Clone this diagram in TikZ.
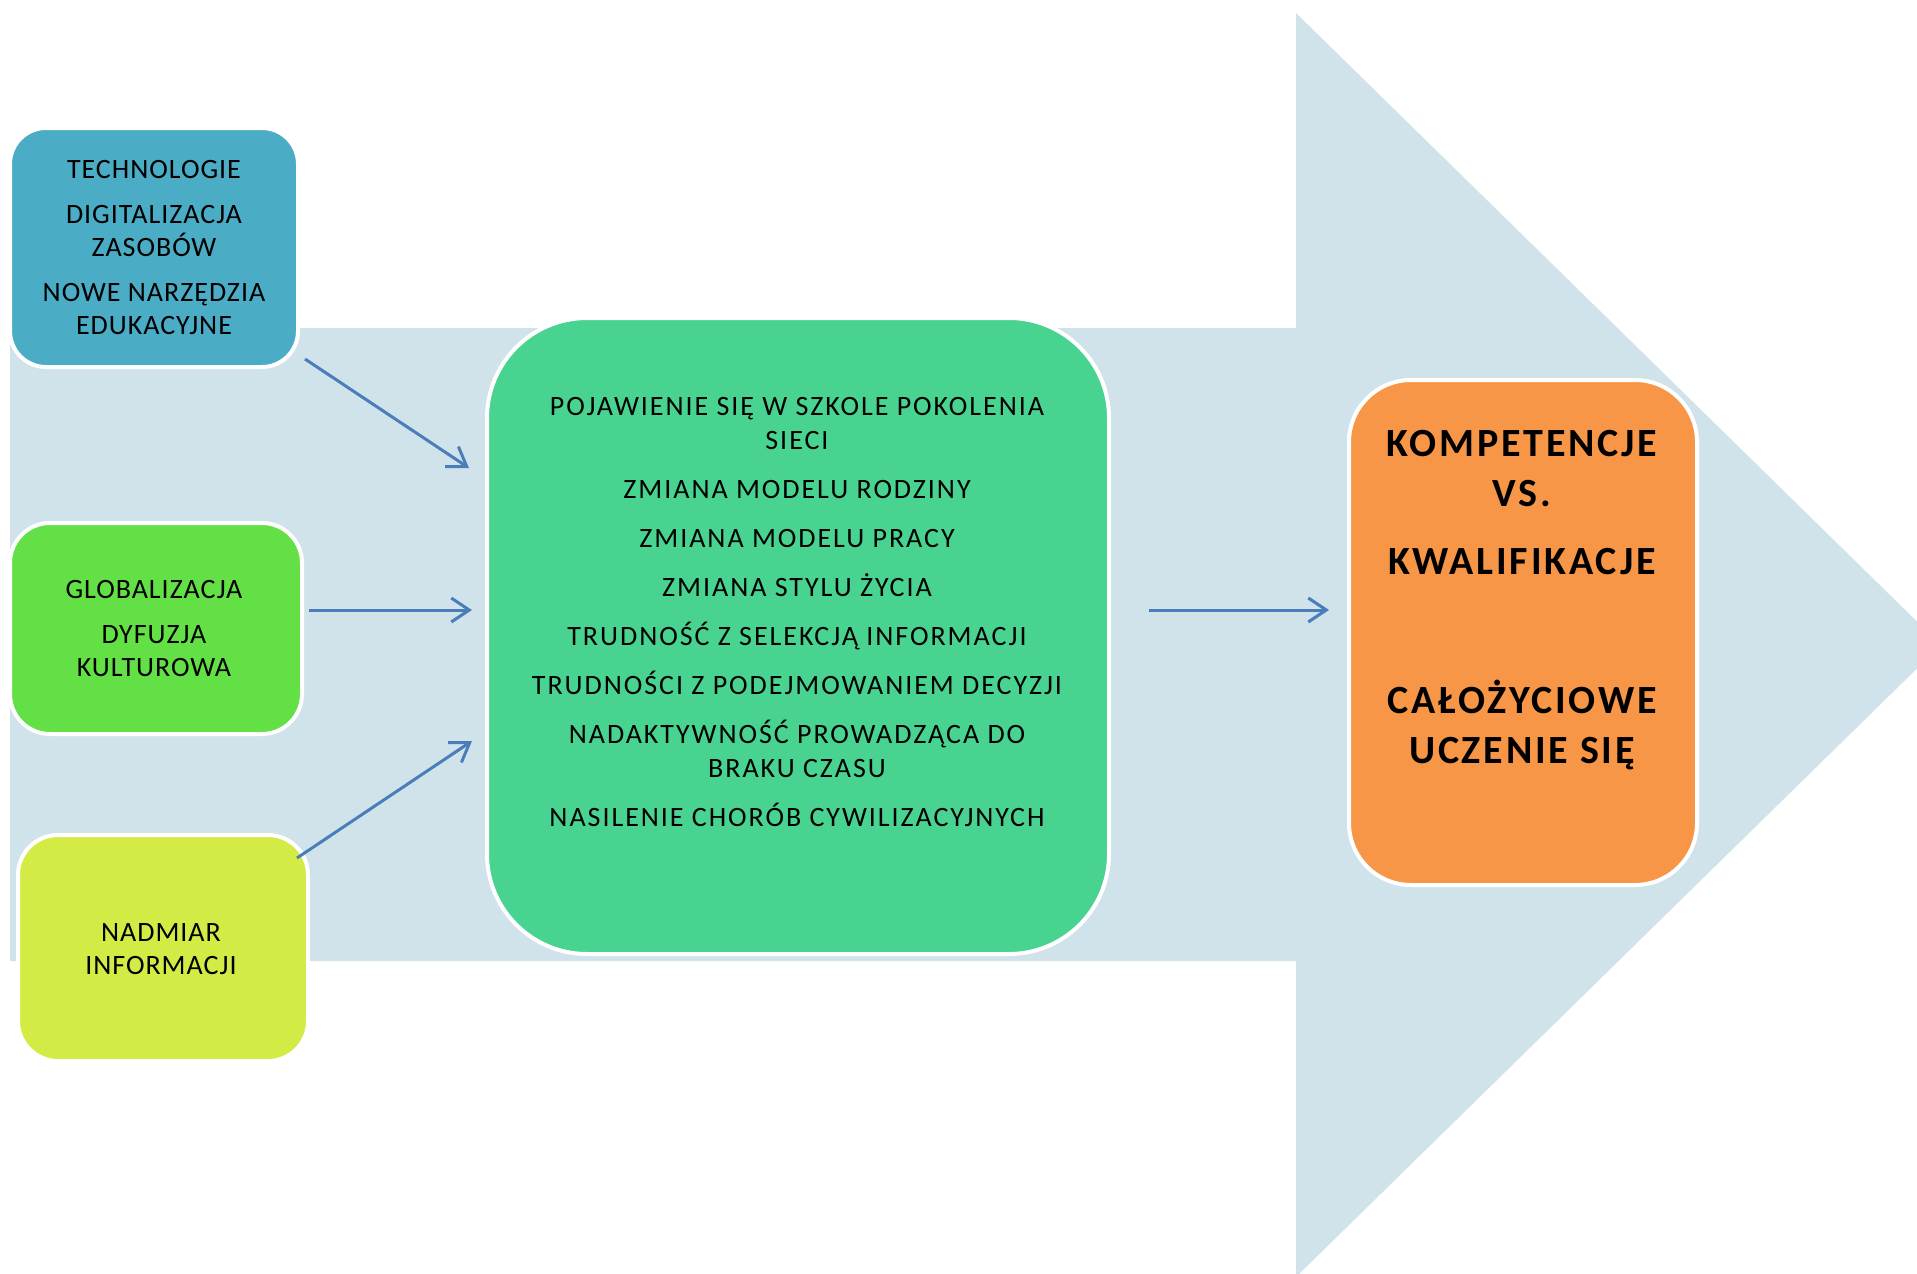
\documentclass[tikz,border=0pt]{standalone}
\usepackage{fontspec}
\setmainfont{Carlito}
\newfontfamily\spsmall[LetterSpace=3.5]{Carlito}
\newfontfamily\spmid[LetterSpace=7]{Carlito}
\newfontfamily\spbold[LetterSpace=7]{Carlito}
\usetikzlibrary{arrows.meta}
\definecolor{arrowbg}{HTML}{D0E3EA}
\definecolor{cblue}{HTML}{4BACC6}
\definecolor{cgreen}{HTML}{62E046}
\definecolor{cyellow}{HTML}{D5EB45}
\definecolor{ccenter}{HTML}{48D490}
\definecolor{corange}{HTML}{F79646}
\definecolor{cline}{HTML}{4A7EBB}
\begin{document}
\begin{tikzpicture}[x=1pt,y=-1pt,
  box/.style={draw=white, line width=4pt, inner sep=0pt, rectangle},
  txt/.style={align=center, inner sep=0pt, font=\spsmall\fontsize{28}{33}\selectfont},
  ctxt/.style={align=center, inner sep=0pt, font=\spmid\fontsize{28}{34}\selectfont},
  btxt/.style={align=center, inner sep=0pt, font=\spbold\fontsize{40}{50}\selectfont\bfseries},
  conn/.style={draw=cline, line width=3pt, -{Straight Barb[length=18pt,width=24pt,line width=3pt]}}]
\useasboundingbox (0,0) rectangle (1917,1274);
\begin{scope}
\clip (0,0) rectangle (1917,1274);
\fill[arrowbg] (10,328) -- (1296,328) -- (1296,13) -- (1941,645) -- (1296,1277) -- (1296,961) -- (10,961) -- cycle;
\end{scope}
% boxes
\node[box, fill=cblue, rounded corners=36pt, minimum width=288pt, minimum height=239pt] (blue) at (154,247.5) {};
\node[box, fill=cgreen, rounded corners=40pt, minimum width=292pt, minimum height=211pt] (green) at (156,628.5) {};
\node[box, fill=cyellow, rounded corners=40pt, minimum width=290pt, minimum height=226pt] (yellow) at (163,948) {};
\node[box, fill=ccenter, rounded corners=100pt, minimum width=622pt, minimum height=636pt] (center) at (798,636) {};
\node[box, fill=corange, rounded corners=62pt, minimum width=348pt, minimum height=505pt] (orange) at (1523,632.5) {};
% texts
\node[txt] (tblue) at (154,248) {TECHNOLOGIE\\[12pt]DIGITALIZACJA\\ZASOBÓW\\[12pt]NOWE NARZĘDZIA\\EDUKACYJNE};
\node[txt] (tgreen) at (154,629) {GLOBALIZACJA\\[12pt]DYFUZJA\\KULTUROWA};
\node[txt] (tyellow) at (161,949.5) {NADMIAR\\INFORMACJI};
\node[ctxt] (tcenter) at (797,612) {POJAWIENIE SIĘ W SZKOLE POKOLENIA\\SIECI\\[15pt]ZMIANA MODELU RODZINY\\[15pt]ZMIANA MODELU PRACY\\[15pt]ZMIANA STYLU ŻYCIA\\[15pt]TRUDNOŚĆ Z SELEKCJĄ INFORMACJI\\[15pt]TRUDNOŚCI Z PODEJMOWANIEM DECYZJI\\[15pt]NADAKTYWNOŚĆ PROWADZĄCA DO\\BRAKU CZASU\\[15pt]NASILENIE CHORÓB CYWILIZACYJNYCH};
\node[btxt] (torange) at (1522,600) {KOMPETENCJE\\VS.\\[18pt]KWALIFIKACJE\\[89pt]CAŁOŻYCIOWE\\UCZENIE SIĘ};
% connectors
\coordinate (a1s) at (305,359);
\coordinate (a1e) at (469,468);
\coordinate (a2s) at (309,610);
\coordinate (a2e) at (472,610);
\coordinate (a3s) at (297,858);
\coordinate (a3e) at (472,741);
\coordinate (a4s) at (1149,610);
\coordinate (a4e) at (1329,610);
\draw[conn] (a1s) -- (a1e);
\draw[conn] (a2s) -- (a2e);
\draw[conn] (a3s) -- (a3e);
\draw[conn] (a4s) -- (a4e);
\end{tikzpicture}
\end{document}
